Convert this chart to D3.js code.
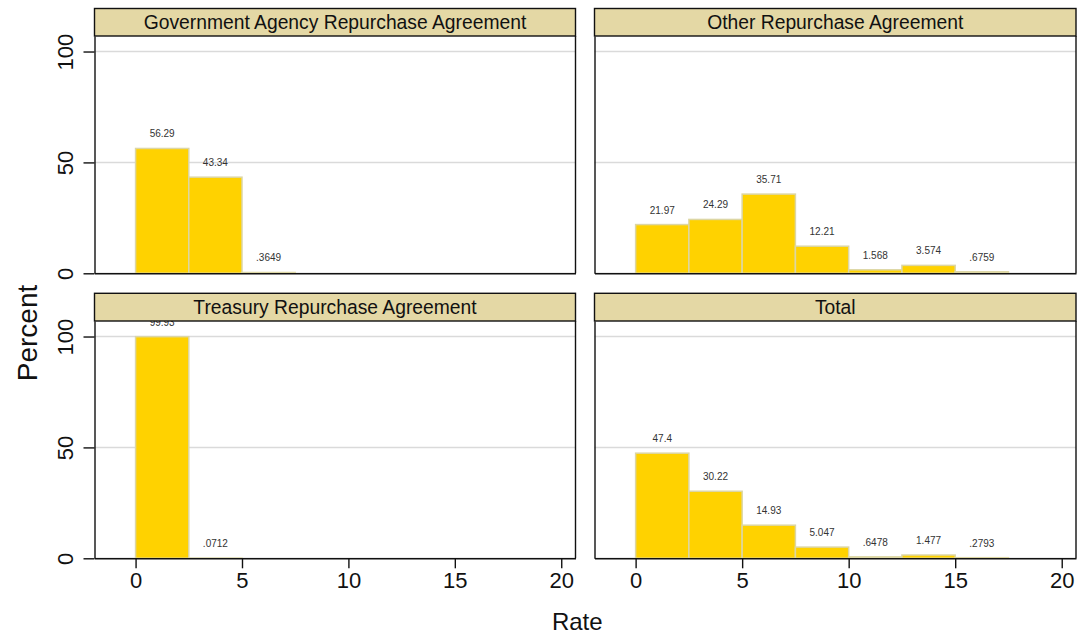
<!DOCTYPE html>
<html>
<head>
<meta charset="utf-8">
<script src="https://cdn.jsdelivr.net/npm/d3@7"></script>
<style>
  html, body { margin: 0; padding: 0; background: #ffffff; }
  svg { display: block; font-family: "Liberation Sans", Arial, Helvetica, sans-serif; }
</style>
</head>
<body>
<svg id="chart" width="1079" height="638"></svg>
<script>
// ---- data ----
const panelTitles = [
  "Government Agency Repurchase Agreement",
  "Other Repurchase Agreement",
  "Treasury Repurchase Agreement",
  "Total"
];
const binWidth = 2.5;
const binStarts = [0, 2.5, 5, 7.5, 10, 12.5, 15];
const govAgencyValues = [56.29, 43.34, 0.3649];
const otherValues = [21.97, 24.29, 35.71, 12.21, 1.568, 3.574, 0.6759];
const treasuryValues = [99.93, 0.0712];
const totalValues = [47.4, 30.22, 14.93, 5.047, 0.6478, 1.477, 0.2793];
const yTicks = [0, 50, 100];
const xTicks = [0, 5, 10, 15, 20];
const xTitle = "Rate";
const yTitle = "Percent";

const panelValues = [govAgencyValues, otherValues, treasuryValues, totalValues];

// ---- layout ----
const svg = d3.select("#chart");
const cols = [{ x0: 94.5, x1: 575.5 }, { x0: 594.5, x1: 1076 }];
const rows = [{ h0: 8.5, h1: 36, y1: 273.3 }, { h0: 293.3, h1: 321, y1: 558.3 }];
const xDomain = [-1.93, 20.67];
const yDomain = [0, 107];

const fmt = v => String(v).replace(/^0\./, ".");

panelTitles.forEach((title, i) => {
  const c = cols[i % 2], r = rows[Math.floor(i / 2)];
  const x = d3.scaleLinear().domain(xDomain).range([c.x0, c.x1]);
  const y = d3.scaleLinear().domain(yDomain).range([r.y1, r.h1]);
  const g = svg.append("g");

  // gridlines
  g.selectAll("line.grid").data(yTicks).join("line")
    .attr("x1", c.x0).attr("x2", c.x1)
    .attr("y1", d => y(d)).attr("y2", d => y(d))
    .attr("stroke", "#dadada").attr("stroke-width", 1.5);

  const data = panelValues[i].map((v, k) => ({ start: binStarts[k], value: v }));

  // bars
  g.selectAll("rect.bar").data(data).join("rect")
    .attr("x", d => x(d.start))
    .attr("width", d => x(d.start + binWidth) - x(d.start))
    .attr("y", d => y(d.value))
    .attr("height", d => y(0) - y(d.value))
    .attr("fill", "#ffd200")
    .attr("stroke", "#dcd6a4")
    .attr("stroke-width", 1.5);

  // value labels
  g.selectAll("text.val").data(data).join("text")
    .attr("x", d => x(d.start + binWidth / 2))
    .attr("y", d => y(d.value) - 11)
    .attr("text-anchor", "middle")
    .attr("font-size", 10)
    .attr("fill", "#333")
    .text(d => fmt(d.value));

  // header strip
  g.append("rect")
    .attr("x", c.x0).attr("y", r.h0)
    .attr("width", c.x1 - c.x0).attr("height", r.h1 - r.h0)
    .attr("fill", "#e4d8a5").attr("stroke", "#111").attr("stroke-width", 1.4);
  g.append("text")
    .attr("x", (c.x0 + c.x1) / 2).attr("y", (r.h0 + r.h1) / 2 + 7)
    .attr("text-anchor", "middle").attr("font-size", 19.3).attr("fill", "#111")
    .text(title);

  // right frame line
  g.append("line")
    .attr("x1", c.x1).attr("x2", c.x1).attr("y1", r.h1).attr("y2", r.y1)
    .attr("stroke", "#111").attr("stroke-width", 1.4);

  // y axis
  const yAxis = d3.axisLeft(y).tickValues(yTicks)
    .tickSize(i % 2 === 0 ? 11 : 0).tickSizeOuter(0);
  const ya = g.append("g").attr("transform", `translate(${c.x0},0)`).call(yAxis);
  ya.select(".domain").attr("stroke", "#111").attr("stroke-width", 1.4);
  ya.selectAll(".tick line").attr("stroke", "#111").attr("stroke-width", 1.4);
  if (i % 2 === 0) {
    ya.selectAll(".tick text")
      .attr("x", null).attr("dy", null).attr("y", null)
      .attr("text-anchor", "middle")
      .attr("transform", "translate(-22,0) rotate(-90)")
      .attr("font-size", 22).attr("font-family", null).attr("fill", "#111");
  } else {
    ya.selectAll(".tick text").remove();
  }

  // x axis
  const showX = Math.floor(i / 2) === 1;
  const xAxis = d3.axisBottom(x).tickValues(xTicks)
    .tickSize(showX ? 10 : 0).tickSizeOuter(0).tickPadding(4);
  const xa = g.append("g").attr("transform", `translate(0,${r.y1})`).call(xAxis);
  xa.select(".domain").attr("stroke", "#111").attr("stroke-width", 1.4);
  xa.selectAll(".tick line").attr("stroke", "#111").attr("stroke-width", 1.4);
  if (showX) {
    xa.selectAll(".tick text").attr("font-size", 22).attr("font-family", null).attr("fill", "#111");
  } else {
    xa.selectAll(".tick text").remove();
  }
});

// axis titles
svg.append("text")
  .attr("x", (cols[0].x0 + cols[1].x1) / 2 - 8).attr("y", 630)
  .attr("text-anchor", "middle").attr("font-size", 24).attr("fill", "#111")
  .text(xTitle);
svg.append("text")
  .attr("transform", `translate(37,333) rotate(-90)`)
  .attr("text-anchor", "middle").attr("font-size", 28).attr("fill", "#111")
  .text(yTitle);
</script>
</body>
</html>
